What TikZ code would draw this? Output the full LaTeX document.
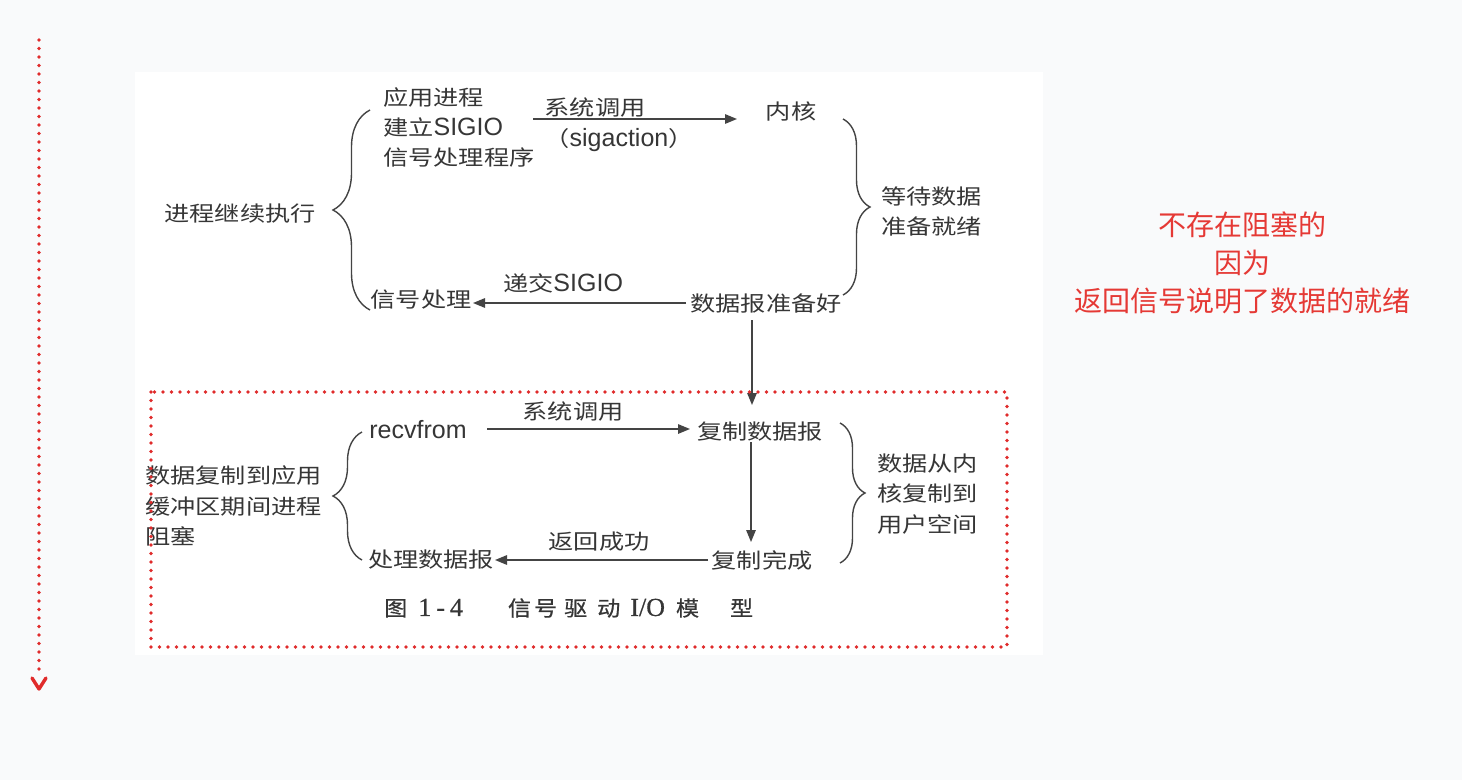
\documentclass[tikz,border=0pt]{standalone}
\usepackage{fontspec}
\usetikzlibrary{arrows.meta,decorations.pathreplacing}
\newfontfamily\cjk[FakeStretch=1.2]{Noto Sans CJK SC}
\newfontfamily\cjkplain{Noto Sans CJK SC}
\newfontfamily\capcjk[FakeStretch=1.1,FakeBold=0.6]{Noto Sans CJK SC}
\newfontfamily\latinfont{Liberation Sans}
\newfontfamily\capserif[FakeBold=0.6]{Liberation Serif}
\newcommand\latn[1]{{\latinfont\fontsize{25}{30}\selectfont #1}}
\definecolor{bgc}{HTML}{F9FAFB}
\definecolor{ink}{HTML}{363636}
\definecolor{linec}{HTML}{444444}
\definecolor{redtxt}{HTML}{E53935}
\definecolor{reddot}{HTML}{E02B2B}
\begin{document}
\begin{tikzpicture}[x=1pt,y=-1pt,
  txt/.style={inner sep=0pt, text=ink, font=\cjk\fontsize{21}{30}\selectfont},
  arr/.style={draw=linec, line width=1.4pt, -{Triangle[length=12pt,width=9.5pt]}},
  brc/.style={draw=linec, line width=1.4pt, decorate, decoration={brace,amplitude=#1}},
  dots/.style={draw=reddot, line width=3.8pt, line cap=round, dash pattern=on 0pt off 8.5pt},
]
\useasboundingbox (0,0) rectangle (1462,780);
\fill[bgc] (0,0) rectangle (1462,780);
\fill[white] (135,72) rectangle (1043,655);

% ---- top part ----
\node[txt, anchor=west, align=left] (setup) at (383,127) {应用进程\\建立\latn{SIGIO}\\信号处理程序};
\node[txt] (sys1) at (595,108) {系统调用};
\node[txt] (sigact) at (619,140) {（\latn{sigaction}）};
\node[txt] (kernel) at (791,111) {内核};
\node[txt, anchor=west, align=left] (wait) at (881,211) {等待数据\\准备就绪};
\node[txt] (ready) at (766,304) {数据报准备好};
\node[txt] (deliver) at (563,283) {递交\latn{SIGIO}};
\node[txt] (sig) at (421,300) {信号处理};
\node[txt] (cont) at (240,214) {进程继续执行};

\coordinate (a1s) at (533,119);
\coordinate (a1e) at (737,119);
\draw[arr] (a1s) -- (a1e);
\coordinate (a2s) at (686,303);
\coordinate (a2e) at (473,303);
\draw[arr] (a2s) -- (a2e);
\coordinate (a3s) at (752,320);
\coordinate (a3e) at (752,405);
\draw[arr] (a3s) -- (a3e);

\draw[brc=37pt] (370,310) -- (370,110);
\draw[brc=27pt] (843,119) -- (843,295);

% ---- bottom part ----
\node[inner sep=0pt, text=ink] (recv) at (418,430) {\latn{recvfrom}};
\node[txt] (sys2) at (573,412) {系统调用};
\node[txt] (copy) at (760,432) {复制数据报};
\node[txt] (done) at (762,560) {复制完成};
\node[txt] (ret) at (599,542) {返回成功};
\node[txt] (proc) at (431,560) {处理数据报};
\node[txt, anchor=west, align=left, font=\cjk\fontsize{21}{30.5}\selectfont] (blockt) at (145,506) {数据复制到应用\\缓冲区期间进程\\阻塞};
\node[txt, anchor=west, align=left, font=\cjk\fontsize{21}{30.5}\selectfont] (ucopy) at (877,494) {数据从内\\核复制到\\用户空间};

\coordinate (b1s) at (487,429);
\coordinate (b1e) at (690,429);
\draw[arr] (b1s) -- (b1e);
\coordinate (b2s) at (751,442);
\coordinate (b2e) at (751,542);
\draw[arr] (b2s) -- (b2e);
\coordinate (b3s) at (708,560);
\coordinate (b3e) at (495,560);
\draw[arr] (b3s) -- (b3e);

\draw[brc=29pt] (362,560) -- (362,432);
\draw[brc=25pt] (840,423) -- (840,563);

% ---- caption ----
\node[inner sep=0pt, text=ink, anchor=west, font=\capcjk\fontsize{21}{24}\selectfont] (caption) at (384,608)
  {图\hspace{11pt}{\capserif\fontsize{26}{28}\selectfont 1\hspace{5pt}-\hspace{5pt}4}\hspace{45pt}信\hspace{3pt}号\hspace{7pt}驱\hspace{10pt}动\hspace{10pt}{\capserif\fontsize{26}{28}\selectfont I/O}\hspace{11pt}模\hspace{31pt}型};

% ---- red annotations ----
\draw[dots] (151,392) rectangle (1007,647);
\coordinate (vtop) at (39,40);
\coordinate (vbot) at (39,672);
\draw[dots] (vtop) -- (vbot);
\draw[reddot, line width=3.4pt, line cap=round, line join=round] (32,678) -- (39,689) -- (46,678);

\node[inner sep=0pt, text=redtxt, align=center, font=\cjkplain\fontsize{28}{38}\selectfont] (note) at (1242,263)
  {不存在阻塞的\\因为\\返回信号说明了数据的就绪};
\end{tikzpicture}
\end{document}
